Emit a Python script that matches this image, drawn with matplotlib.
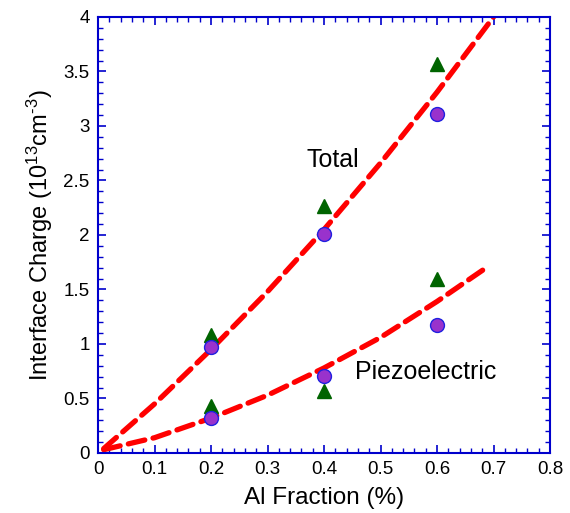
import numpy as np
import matplotlib
matplotlib.use('Agg')
import matplotlib.pyplot as plt

plt.rcParams['font.family'] = ['Liberation Sans', 'DejaVu Sans']
plt.rcParams['mathtext.fontset'] = 'custom'
plt.rcParams['mathtext.rm'] = 'Liberation Sans'
plt.rcParams['mathtext.it'] = 'Liberation Sans:italic'

# data
al_frac = [0.2, 0.4, 0.6]
total_circle = [0.97, 2.01, 3.11]
total_tri = [1.08, 2.27, 3.57]
piezo_circle = [0.32, 0.71, 1.17]
piezo_tri = [0.43, 0.57, 1.60]

# dashed fit curves (read at a few x positions)
fit_x_total = [0.01, 0.1, 0.2, 0.3, 0.4, 0.5, 0.6, 0.7]
fit_y_total = [0.04, 0.45, 0.95, 1.48, 2.05, 2.66, 3.31, 4.0]
fit_x_piezo = [0.01, 0.1, 0.2, 0.3, 0.4, 0.5, 0.6, 0.69]
fit_y_piezo = [0.03, 0.14, 0.32, 0.53, 0.78, 1.06, 1.39, 1.71]

fig = plt.figure(figsize=(5.70, 5.13), dpi=100)
ax = fig.add_axes([0.172, 0.117, 0.793, 0.850])

for fx, fy in [(fit_x_total, fit_y_total), (fit_x_piezo, fit_y_piezo)]:
    ax.plot(fx, fy, color='red', lw=3.8, ls=(0, (3.2, 1.6)),
            dash_capstyle='round', zorder=2)

ax.plot(al_frac, total_tri, '^', color='#006400', ms=10, mec='#006400', zorder=3)
ax.plot(al_frac, piezo_tri, '^', color='#006400', ms=10, mec='#006400', zorder=3)
ax.plot(al_frac, total_circle, 'o', color='#9932CC', ms=10, mec='#2020E0', mew=1, zorder=4)
ax.plot(al_frac, piezo_circle, 'o', color='#9932CC', ms=10, mec='#2020E0', mew=1, zorder=4)

ax.text(0.416, 2.69, 'Total', fontsize=18, ha='center', va='center')
ax.text(0.455, 0.74, 'Piezoelectric', fontsize=18, ha='left', va='center')

ax.set_xlim(0, 0.8)
ax.set_ylim(0, 4)
ax.set_xticks(np.arange(0, 0.81, 0.1))
ax.set_xticklabels(['0', '0.1', '0.2', '0.3', '0.4', '0.5', '0.6', '0.7', '0.8'])
ax.set_yticks(np.arange(0, 4.01, 0.5))
ax.set_yticklabels(['0', '0.5', '1', '1.5', '2', '2.5', '3', '3.5', '4'])
ax.set_xticks(np.arange(0, 0.801, 0.02), minor=True)
ax.set_yticks(np.arange(0, 4.01, 0.1), minor=True)

for s in ax.spines.values():
    s.set_color('#0000CC')
    s.set_linewidth(1.5)
ax.tick_params(which='both', direction='in', top=True, right=True, color='#0000CC',
               labelsize=13.5, labelcolor='black')
ax.tick_params(which='major', length=6, width=1.2, pad=6)
ax.tick_params(which='minor', length=3.5, width=1)

ax.set_xlabel('Al Fraction (%)', fontsize=17.5, labelpad=6)
ax.set_ylabel(r'Interface Charge (10$^{13}$cm$^{\text{-}3}$)', fontsize=17, labelpad=6)

fig.savefig('out.png', dpi=100)
